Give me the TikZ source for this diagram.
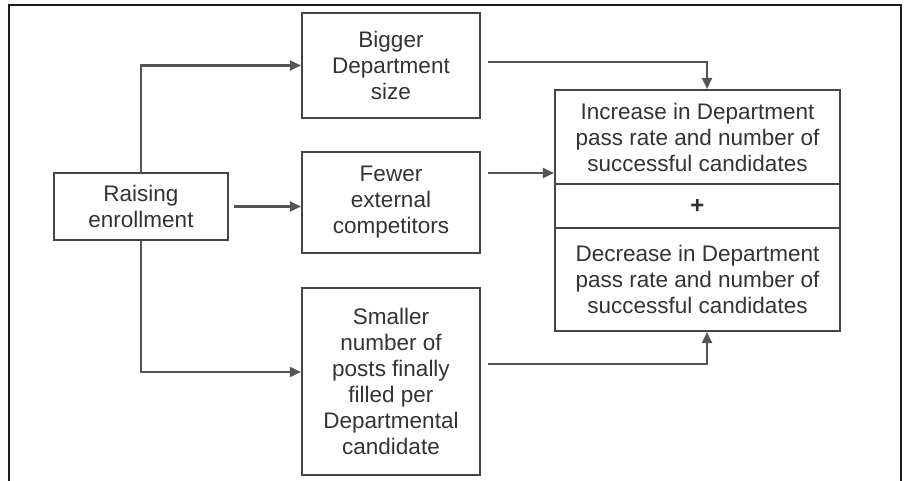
\documentclass[tikz,border=0pt]{standalone}
\usepackage{fontspec}
\setmainfont{Liberation Sans}
\usetikzlibrary{arrows.meta,positioning}
\definecolor{inkgray}{HTML}{333333}
\definecolor{boxgray}{HTML}{444444}
\definecolor{wiregray}{HTML}{555555}
\definecolor{framegray}{HTML}{1E1E1E}
\begin{document}
\begin{tikzpicture}[x=1pt,y=-1pt,
  box/.style={draw=boxgray,line width=2.1pt,inner sep=0pt,align=center,
    text=inkgray,font=\fontsize{22.5}{26}\selectfont},
  link/.style={draw=wiregray,line width=2.1pt,
    -{Triangle[length=11pt,width=10pt]},color=wiregray}]
\useasboundingbox (0,0) rectangle (905,481);
% outer frame, open at the bottom
\draw[framegray,line width=1.6pt] (9,481) -- (9,5) -- (901,5) -- (901,481);

% boxes
\node[box,minimum width=174pt,minimum height=67pt] (raise) at (141,206.5) {Raising\\enrollment};
\node[box,minimum width=178pt,minimum height=105pt] (bigger) at (391,65.5) {Bigger\\Department\\size};
\node[box,minimum width=178pt,minimum height=101pt] (fewer) at (391,202.5) {Fewer\\external\\competitors};
\node[box,minimum width=178pt,minimum height=187pt] (smaller) at (391,381.5) {Smaller\\number of\\posts finally\\filled per\\Departmental\\candidate};
\node[box,minimum width=285pt,minimum height=94pt] (incr) at (697.5,137) {Increase in Department\\pass rate and number of\\successful candidates};
\node[box,minimum width=285pt,minimum height=44pt,font=\fontsize{24}{26}\bfseries] (plus) at (697.5,206) {+};
\node[box,minimum width=285pt,minimum height=103pt] (decr) at (697.5,279.5) {Decrease in Department\\pass rate and number of\\successful candidates};

% connectors from the source
\draw[link] (raise.north) |- (bigger.west);
\draw[link,shorten <=5pt] (raise.east) -- (raise.east -| fewer.west);
\draw[link] (raise.south) |- ([yshift=9.5pt]smaller.west);

% connectors into the outcome box
\draw[link,shorten <=7pt] ([yshift=3.5pt]bigger.east) -| ([xshift=9.5pt]incr.north);
\draw[link,shorten <=7pt] ([yshift=29.5pt]fewer.east) -- ([yshift=29.5pt]fewer.east -| incr.west);
\draw[link,shorten <=7pt] ([yshift=17.5pt]smaller.east) -| ([xshift=9.5pt]decr.south);
\end{tikzpicture}
\end{document}
